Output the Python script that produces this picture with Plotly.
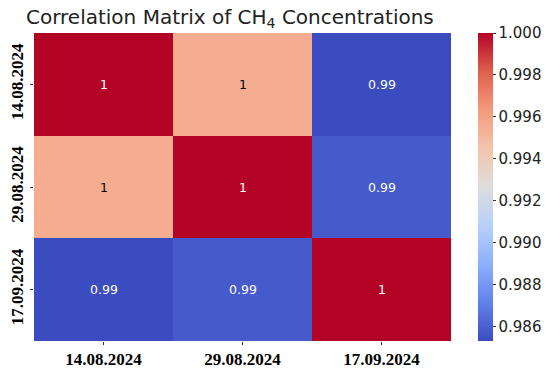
import plotly.graph_objects as go

dates = ["14.08.2024", "29.08.2024", "17.09.2024"]
corr_row_1 = [1.0, 0.9955, 0.9853]
corr_row_2 = [0.9955, 1.0, 0.9858]
corr_row_3 = [0.9853, 0.9858, 1.0]
z = [corr_row_1, corr_row_2, corr_row_3]
cbar_ticks = [0.986, 0.988, 0.990, 0.992, 0.994, 0.996, 0.998, 1.000]

coolwarm = [
    [0.0, "rgb(59,76,192)"],
    [0.125, "rgb(98,130,234)"],
    [0.25, "rgb(141,176,254)"],
    [0.375, "rgb(184,208,249)"],
    [0.5, "rgb(221,221,221)"],
    [0.625, "rgb(245,196,173)"],
    [0.75, "rgb(244,154,123)"],
    [0.875, "rgb(222,96,77)"],
    [1.0, "rgb(180,4,38)"],
]

zmin = min(min(r) for r in z)
zmax = max(max(r) for r in z)


def color_at(v):
    t = (v - zmin) / (zmax - zmin)
    for (a, ca), (b, cb) in zip(coolwarm[:-1], coolwarm[1:]):
        if a <= t <= b:
            f = (t - a) / (b - a) if b > a else 0
            pa = [int(x) for x in ca[4:-1].split(",")]
            pb = [int(x) for x in cb[4:-1].split(",")]
            return [pa[i] + f * (pb[i] - pa[i]) for i in range(3)]
    return [180, 4, 38]


def text_color(v):
    r, g, b = [c / 255 for c in color_at(v)]
    lum = 0.2126 * r + 0.7152 * g + 0.0722 * b
    return "black" if lum > 0.408 else "white"


fig = go.Figure(
    go.Heatmap(
        z=z,
        x=dates,
        y=dates,
        colorscale=coolwarm,
        zmin=zmin,
        zmax=zmax,
        xgap=0,
        ygap=0,
        hoverinfo="skip",
        colorbar=dict(
            x=1.0647,
            xanchor="left",
            xpad=0,
            ypad=0,
            y=0.5,
            yanchor="middle",
            len=1.0,
            lenmode="fraction",
            thickness=15,
            outlinewidth=0,
            tickvals=cbar_ticks,
            ticktext=[f"{t:.3f}" for t in cbar_ticks],
            ticks="outside",
            ticklen=3,
            tickcolor="#333",
            tickfont=dict(family="DejaVu Sans", size=15, color="#222"),
        ),
    )
)

for i, yv in enumerate(dates):
    for j, xv in enumerate(dates):
        v = z[i][j]
        fig.add_annotation(
            x=xv,
            y=yv,
            text=format(v, ".2g"),
            showarrow=False,
            font=dict(family="DejaVu Sans", size=12.5, color=text_color(v)),
        )

fig.update_layout(
    width=550,
    height=375,
    margin=dict(l=34, r=99, t=33, b=34, autoexpand=False),
    paper_bgcolor="white",
    plot_bgcolor="white",
    title=dict(
        text="Correlation Matrix of CH<sub>4</sub> Concentrations",
        x=0.418,
        xref="container",
        xanchor="center",
        y=0.955,
        yref="container",
        yanchor="middle",
        font=dict(family="DejaVu Sans", size=20, color="#222"),
    ),
)
fig.update_xaxes(
    showgrid=False,
    zeroline=False,
    automargin=False,
    ticks="outside",
    ticklen=3,
    tickcolor="#333",
    tickfont=dict(family="Liberation Serif", size=17, color="black"),
    tickprefix="<b>",
    ticksuffix="</b>",
)
fig.update_yaxes(
    showgrid=False,
    zeroline=False,
    automargin=False,
    autorange="reversed",
    ticks="outside",
    ticklen=3,
    tickcolor="#333",
    tickangle=-90,
    tickfont=dict(family="Liberation Serif", size=17, color="black"),
    tickprefix="<b>",
    ticksuffix="</b>",
)

fig.write_html(
    "out.html",
    config={"displayModeBar": False},
    post_script="document.body.style.margin='0';document.body.style.padding='0';",
)
